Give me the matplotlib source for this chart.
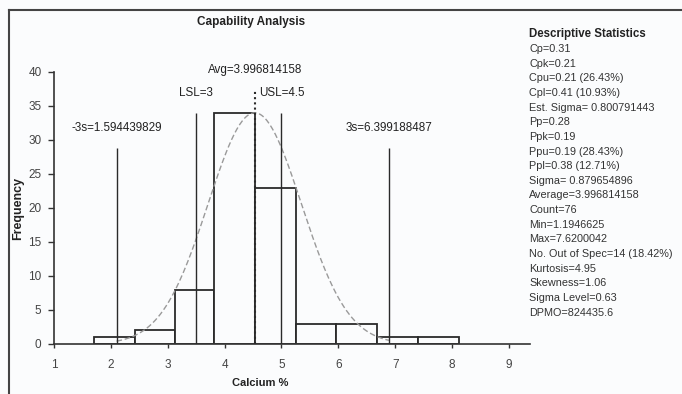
import matplotlib
matplotlib.use('Agg')
import matplotlib.pyplot as plt
from matplotlib.lines import Line2D
import numpy as np

plt.rcParams['font.family'] = ['Liberation Sans', 'DejaVu Sans']

# histogram
bin_edges = [1.70, 2.42, 3.12, 3.82, 4.53, 5.25, 5.96, 6.68, 7.40, 8.12]
counts = [1, 2, 8, 34, 23, 3, 3, 1, 1]

# reference lines: (x position, top of line, label, label height)
avg_x = 4.53
avg_top = 37.5
avg_label = "Avg=3.996814158"
spec_x = [3.5, 5.0]
spec_top = 34
spec_labels = ["LSL=3", "USL=4.5"]
sig_x = [2.10, 6.89]
sig_top = 28.8
sig_labels = ["-3s=1.594439829", "3s=6.399188487"]

# fitted normal curve parameters (as drawn)
curve_sigma = 0.82
curve_peak = 34

stats_title = "Descriptive Statistics"
stats_lines = [
    "Cp=0.31", "Cpk=0.21", "Cpu=0.21 (26.43%)", "Cpl=0.41 (10.93%)",
    "Est. Sigma= 0.800791443", "Pp=0.28", "Ppk=0.19", "Ppu=0.19 (28.43%)",
    "Ppl=0.38 (12.71%)", "Sigma= 0.879654896", "Average=3.996814158",
    "Count=76", "Min=1.1946625", "Max=7.6200042",
    "No. Out of Spec=14 (18.42%)", "Kurtosis=4.95", "Skewness=1.06",
    "Sigma Level=0.63", "DPMO=824435.6",
]

W, H = 682, 394
bg = '#fbfcfd'
fig = plt.figure(figsize=(W / 100, H / 100), dpi=100, facecolor=bg)
ax = fig.add_axes([54 / W, 1 - 344 / H, (530 - 54) / W, (344 - 72) / H])
ax.set_facecolor(bg)

# bars
edges = np.array(bin_edges)
ax.bar(edges[:-1], counts, width=np.diff(edges), align='edge',
       facecolor=bg, edgecolor='#2a2a2a', linewidth=1.3, zorder=2)

# normal curve
xs = np.linspace(sig_x[0], sig_x[1], 200)
ys = curve_peak * np.exp(-(xs - avg_x) ** 2 / (2 * curve_sigma ** 2))
ax.plot(xs, ys, color='#9a9a9a', linestyle=(0, (4, 2)), linewidth=1.0, zorder=3)

# vertical lines
ax.vlines(avg_x, 0, avg_top, colors='#2a2a2a', linestyles=(0, (1, 1.5)), linewidth=1.5, zorder=4)
ax.vlines(spec_x, 0, spec_top, colors='#2a2a2a', linewidth=1.0, zorder=4)
ax.vlines(sig_x, 0, sig_top, colors='#2a2a2a', linewidth=1.0, zorder=4)

fs = 8.4
ax.text(avg_x, 40.3, avg_label, ha='center', va='center', fontsize=fs, color='#222')
for x, lab in zip(spec_x, spec_labels):
    ax.text(x, 36.9, lab, ha='center', va='center', fontsize=fs, color='#222')
for x, lab in zip(sig_x, sig_labels):
    ax.text(x, 31.8, lab, ha='center', va='center', fontsize=fs, color='#222')

ax.set_xlim(1, 9.37)
ax.set_ylim(0, 40)
ax.set_xticks(range(1, 10))
ax.set_yticks(range(0, 41, 5))
for s in ['top', 'right']:
    ax.spines[s].set_visible(False)
for s in ['left', 'bottom']:
    ax.spines[s].set_color('#333')
    ax.spines[s].set_linewidth(1.2)
ax.tick_params(axis='y', direction='out', length=4, width=1, color='#333',
               labelsize=8.5, labelcolor='#444', pad=5)
ax.tick_params(axis='x', direction='out', length=3, width=1, color='#333',
               labelsize=8.5, labelcolor='#444', pad=8)

ax.set_ylabel("Frequency", fontsize=9, fontweight='bold', color='#222')
ax.yaxis.set_label_coords(-30 / 476, 0.5)
ax.set_xlabel("Calcium %", fontsize=8, fontweight='bold', color='#222')
ax.xaxis.set_label_coords((260 - 54) / 476, (344 - 378) / 272)

fig.text(251 / W, 1 - 22 / H, "Capability Analysis", ha='center', va='center',
         fontsize=8.5, fontweight='bold', color='#222')

# statistics panel
fig.text(529 / W, 1 - 34 / H, stats_title, ha='left', va='center',
         fontsize=8.3, fontweight='bold', color='#222')
for i, line in enumerate(stats_lines):
    fig.text(529 / W, 1 - (49 + i * 14.65) / H, line, ha='left', va='center',
             fontsize=7.8, color='#333')

# outer frame (left and top edges visible)
fig.add_artist(Line2D([9 / W, 9 / W], [0, 1 - 9.5 / H], transform=fig.transFigure,
                      color='#444', linewidth=1.5))
fig.add_artist(Line2D([9 / W, 1], [1 - 9.5 / H, 1 - 9.5 / H], transform=fig.transFigure,
                      color='#444', linewidth=1.5))

fig.savefig('out.png', dpi=100, facecolor=bg)
